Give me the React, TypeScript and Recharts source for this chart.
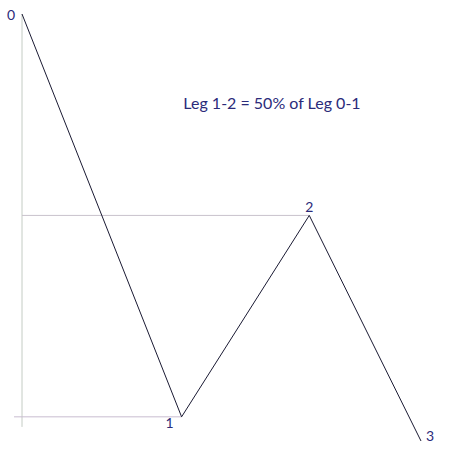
import { LineChart, Line, XAxis, YAxis, ReferenceLine, LabelList } from 'recharts';

// wave pivots: time position and price (leg 1-2 retraces 50% of leg 0-1)
const POINT_LABELS = ['0', '1', '2', '3'];
const TIME = [0, 40, 72, 100];
const PRICE = [100, 0, 50, -6];

const TITLE = 'Leg 1-2 = 50% of Leg 0-1';

const data = TIME.map((t, i) => ({ t, price: PRICE[i], label: POINT_LABELS[i] }));

const TEXT_COLOR = '#2b2b7a';
const FONT = 'Lato, "Open Sans", sans-serif';

// where each label sits relative to its pivot
const LABEL_OFFSETS: [number, number][] = [
  [-11, 0],
  [-12, 6],
  [0, -9],
  [9, -6],
];

const renderLabel = (props: any) => {
  const { x, y, value, index } = props;
  const [dx, dy] = LABEL_OFFSETS[index] ?? [0, 0];
  return (
    <text
      x={x + dx}
      y={y + dy}
      textAnchor="middle"
      dominantBaseline="central"
      fill={TEXT_COLOR}
      fontSize={14}
      fontFamily={FONT}
    >
      {value}
    </text>
  );
};

export default function App() {
  return (
    <div style={{ position: 'absolute', left: 0, top: 0, width: 450, height: 463 }}>
      <LineChart width={450} height={463} data={data} margin={{ top: 14, right: 29, bottom: 22, left: 22 }}>
        <XAxis type="number" dataKey="t" domain={[0, 100]} hide />
        <YAxis type="number" domain={[-6, 100]} hide />
        <ReferenceLine
          segment={[{ x: 0, y: 100 }, { x: 0, y: -2.5 }]}
          stroke="#c4ccc4"
          strokeWidth={1}
          ifOverflow="visible"
        />
        <ReferenceLine
          segment={[{ x: -2, y: 0 }, { x: TIME[1], y: 0 }]}
          stroke="#c8bcd0"
          strokeWidth={1}
          ifOverflow="visible"
        />
        <ReferenceLine
          segment={[{ x: 0, y: PRICE[2] }, { x: TIME[2], y: PRICE[2] }]}
          stroke="#c8c2cc"
          strokeWidth={1}
          ifOverflow="visible"
        />
        <Line
          type="linear"
          dataKey="price"
          stroke="#1a1a33"
          strokeWidth={1}
          dot={false}
          activeDot={false}
          isAnimationActive={false}
        >
          <LabelList dataKey="label" content={renderLabel} />
        </Line>
        <text
          x={272}
          y={102}
          textAnchor="middle"
          dominantBaseline="central"
          fill={TEXT_COLOR}
          fontSize={16}
          fontFamily={FONT}
        >
          {TITLE}
        </text>
      </LineChart>
    </div>
  );
}
